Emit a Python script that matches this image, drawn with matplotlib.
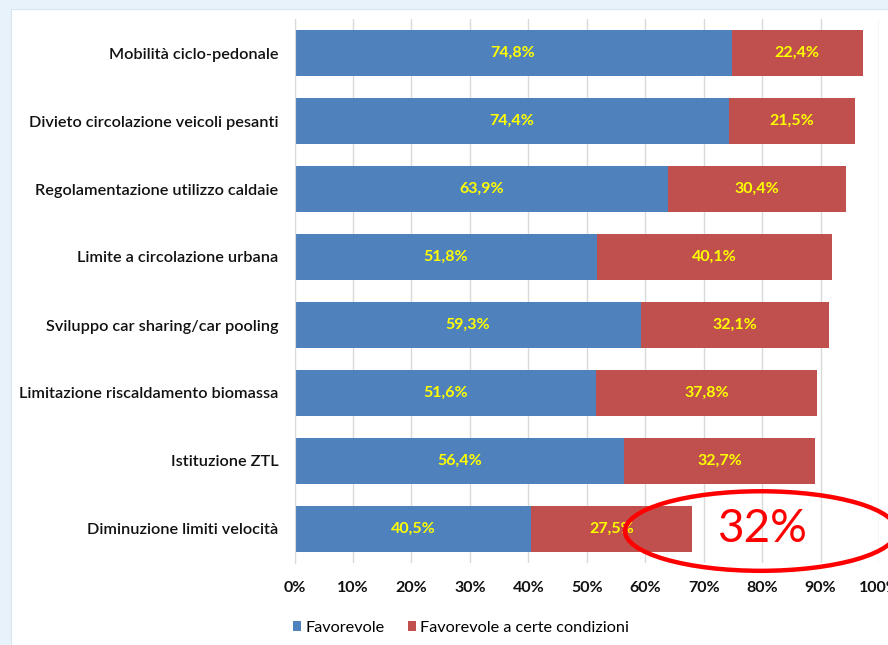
import matplotlib.pyplot as plt
from matplotlib.patches import Ellipse, Rectangle
from matplotlib.ticker import FuncFormatter

categories = [
    'Mobilità ciclo-pedonale',
    'Divieto circolazione veicoli pesanti',
    'Regolamentazione utilizzo caldaie',
    'Limite a circolazione urbana',
    'Sviluppo car sharing/car pooling',
    'Limitazione riscaldamento biomassa',
    'Istituzione ZTL',
    'Diminuzione limiti velocità',
]
favorevole = [74.8, 74.4, 63.9, 51.8, 59.3, 51.6, 56.4, 40.5]
condizioni = [22.4, 21.5, 30.4, 40.1, 32.1, 37.8, 32.7, 27.5]
series_names = ['Favorevole', 'Favorevole a certe condizioni']
callout_text = '32%'

blue = '#4f81bd'
red = '#c0504d'
font = ['Lato', 'DejaVu Sans']

fig = plt.figure(figsize=(8.88, 6.45), dpi=100, facecolor='#e8f2fb')
W, H = 888, 645
# white slide panel
fig.patches.append(Rectangle((11 / W, 0), 1, 1 - 9 / H, transform=fig.transFigure,
                             facecolor='white', edgecolor='#d8e4ee', lw=0.8, zorder=-10))

ax = fig.add_axes([294.5 / W, 1 - 563 / H, 584.5 / W, 544 / H])
ax.set_facecolor('white')
y = list(range(len(categories)))
ax.barh(y, favorevole, height=0.68, color=blue, label=series_names[0], zorder=2)
ax.barh(y, condizioni, left=favorevole, height=0.68, color=red, label=series_names[1], zorder=2)

for i in y:
    ax.text(favorevole[i] / 2, i, f'{favorevole[i]:.1f}%'.replace('.', ','), ha='center', va='center',
            color='#ffff00', fontsize=11.5, fontweight='bold', family=font, zorder=3)
    ax.text(favorevole[i] + condizioni[i] / 2, i, f'{condizioni[i]:.1f}%'.replace('.', ','),
            ha='center', va='center', color='#ffff00', fontsize=11.5, fontweight='bold',
            family=font, zorder=3)

ax.set_xlim(0, 100)
ax.set_ylim(len(categories) - 0.5, -0.5)
ax.set_xticks(range(0, 101, 10))
ax.xaxis.set_major_formatter(FuncFormatter(lambda v, p: f'{v:.0f}%'))
ax.set_yticks(y)
ax.set_yticklabels(categories, family=font, fontsize=11.7, fontweight='semibold')
for lab in ax.get_xticklabels():
    lab.set_family(font)
    lab.set_fontsize(11.5)
    lab.set_fontweight('bold')
ax.tick_params(length=0, colors='#111111')
ax.tick_params(axis='y', pad=11.5)
ax.tick_params(axis='x', pad=13)
ax.grid(axis='x', color='#d9d9d9', lw=1, zorder=0)
for s in ['top', 'right', 'bottom']:
    ax.spines[s].set_visible(False)
ax.spines['left'].set_color('#d9d9d9')

# callout
ax.add_patch(Ellipse((79.8, 7.03), 46.5, 1.17, fill=False, edgecolor='#ff0000', lw=3.2,
                     clip_on=False, zorder=4))
ax.text(80.0, 7.0, callout_text, ha='center', va='center', color='#ff0000', fontsize=33,
        family=font, zorder=4, clip_on=False)

leg = fig.legend(loc='center left', bbox_to_anchor=(286 / W, 1 - 628 / H), ncol=2, frameon=False,
                 borderaxespad=0, handlelength=0.55, handleheight=0.6, handletextpad=0.25,
                 columnspacing=1.4, prop={'family': font, 'size': 11.7})
fig.savefig('out.png', dpi=100, facecolor=fig.get_facecolor())
